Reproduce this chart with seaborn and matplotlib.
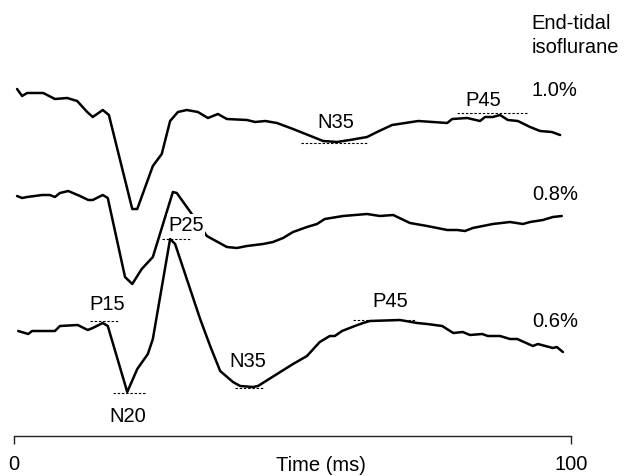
import numpy as np
import pandas as pd
import matplotlib
matplotlib.use("Agg")
import matplotlib.pyplot as plt
import seaborn as sns

# =========================
# DATA (time in ms, amplitude in arbitrary units, positive = up)
# =========================
levels = ["1.0%", "0.8%", "0.6%"]
offsets = [-10.0, -20.0, -33.0]

t_10 = [0.5, 1.4, 2.3, 5.2, 7.3, 9.5, 11.3, 13.1, 14.1, 15.9, 17.0, 21.2, 22.1, 24.9, 26.5, 28.0,
        29.4, 31.0, 33.0, 34.8, 36.6, 38.2, 41.8, 43.3, 45.1, 47.2, 50.1, 53.7, 55.5, 58.0, 60.3,
        63.4, 65.2, 67.9, 72.6, 77.8, 78.7, 81.4, 83.7, 84.6, 86.0, 87.3, 88.7, 90.5, 92.7, 94.5,
        96.6, 98.1]
a_10 = [1.0, 0.3, 0.6, 0.6, 0.0, 0.1, -0.2, -1.3, -1.8, -1.1, -1.6, -11.0, -11.0, -6.7, -5.5, -2.2,
        -1.3, -1.1, -1.3, -1.9, -1.5, -2.0, -2.1, -2.3, -2.2, -2.4, -3.0, -3.8, -4.2, -4.3, -4.1,
        -3.8, -3.3, -2.6, -2.2, -2.4, -2.0, -1.9, -2.2, -1.8, -1.8, -1.6, -2.1, -2.2, -2.8, -3.2,
        -3.3, -3.6]

t_08 = [0.5, 1.4, 2.3, 5.0, 6.4, 7.3, 8.2, 9.7, 11.8, 13.3, 14.1, 15.9, 16.8, 19.9, 21.2, 22.9,
        24.9, 28.5, 29.2, 31.9, 34.6, 38.2, 40.0, 41.8, 44.7, 46.5, 48.3, 50.1, 52.6, 54.4, 55.8,
        59.1, 63.4, 65.7, 68.1, 71.1, 74.2, 77.8, 79.6, 81.0, 82.4, 86.0, 89.1, 91.4, 92.7, 95.0,
        96.8, 98.4]
a_08 = [0.3, 0.1, 0.2, 0.4, 0.4, 0.2, 0.6, 0.8, 0.3, -0.1, -0.1, 0.4, 0.1, -7.8, -8.5, -7.0,
        -5.8, 0.7, 0.6, -1.5, -3.7, -4.8, -4.9, -4.7, -4.5, -4.3, -3.9, -3.3, -2.8, -2.5, -2.0,
        -1.7, -1.5, -1.7, -1.6, -2.4, -2.7, -3.1, -3.1, -3.2, -2.9, -2.5, -2.3, -2.5, -2.3, -2.1,
        -1.8, -1.7]

t_06 = [0.7, 2.5, 3.2, 5.2, 7.3, 8.2, 11.4, 13.2, 14.1, 15.9, 16.8, 20.3, 22.1, 24.0, 24.9, 28.0,
        28.9, 31.0, 33.4, 35.2, 37.0, 39.3, 40.6, 42.9, 43.8, 47.8, 50.1, 52.6, 54.9, 56.7, 57.6,
        58.9, 61.2, 62.7, 63.9, 69.3, 72.4, 74.2, 76.9, 78.9, 80.6, 81.9, 84.1, 85.1, 87.3, 89.1,
        90.4, 93.2, 94.1, 96.8, 97.5, 98.6]
a_06 = [-0.2, -0.5, -0.2, -0.2, -0.2, 0.3, 0.4, -0.1, 0.1, 0.6, 0.3, -6.3, -4.0, -2.5, -1.0, 9.0,
        8.5, 5.0, 1.0, -1.7, -4.2, -5.3, -5.7, -5.8, -5.7, -4.3, -3.5, -2.7, -1.3, -0.7, -0.7,
        -0.2, 0.3, 0.6, 0.8, 0.9, 0.6, 0.5, 0.3, -0.4, -0.3, -0.6, -0.5, -0.7, -0.7, -1.0,
        -1.0, -1.7, -1.5, -1.9, -1.8, -2.3]

# peak markers: name, trace index, start ms, end ms, level, label x, label y
peak_names = ["N35", "P45", "P25", "P15", "N20", "N35", "P45"]
peak_trace = [0, 0, 2, 2, 2, 2, 2]
peak_t0 = [51.5, 79.6, 26.5, 13.6, 17.7, 39.7, 60.9]
peak_t1 = [63.4, 92.3, 31.6, 18.6, 23.7, 44.7, 72.0]
peak_amp = [-4.4, -1.4, 9.0, 0.8, -6.4, -5.9, 0.9]
label_t = [57.8, 84.2, 30.9, 16.7, 20.4, 42.0, 67.5]
label_amp = [-2.3, -0.1, 10.4, 2.5, -8.7, -3.2, 2.8]

level_label_t = 93.0
level_label_amp = [0.9, 0.5, 0.8]

# =========================
# BUILD LONG TABLE
# =========================
frames = []
for lev, off, t, a in zip(levels, offsets, [t_10, t_08, t_06], [a_10, a_08, a_06]):
    frames.append(pd.DataFrame({"time": t, "y": np.array(a) + off, "level": lev}))
df = pd.concat(frames, ignore_index=True)

# =========================
# FIGURE
# =========================
sns.set_theme(style="white")
plt.rcParams['font.family'] = ['Liberation Sans', 'DejaVu Sans']
plt.rcParams['text.color'] = 'black'
plt.rcParams['xtick.color'] = 'black'
plt.rcParams['xtick.labelcolor'] = 'black'
fs = 14.5

fig = plt.figure(figsize=(6.25, 4.77), dpi=100)
ax = fig.add_axes([0, 40 / 477, 1, 437 / 477])

sns.lineplot(data=df, x="time", y="y", units="level", estimator=None, sort=False,
             color="black", linewidth=1.8, ax=ax, zorder=2)

for name, tr, t0, t1, pa, lt, la in zip(peak_names, peak_trace, peak_t0, peak_t1,
                                        peak_amp, label_t, label_amp):
    off = offsets[tr]
    ax.plot([t0, t1], [pa + off, pa + off], color="black", linewidth=0.8,
            linestyle=(0, (2.2, 1.6)), zorder=1)
    box = dict(facecolor="white", edgecolor="none", pad=1.0) if name == "P25" else None
    ax.text(lt, la + off, name, ha="center", va="center", fontsize=fs, bbox=box, zorder=5)

for lev, off, la in zip(levels, offsets, level_label_amp):
    ax.text(level_label_t, la + off, lev, ha="left", va="center", fontsize=fs)

ax.text(level_label_t, -2.9, "End-tidal", ha="left", va="baseline", fontsize=fs)
ax.text(level_label_t, -5.3, "isoflurane", ha="left", va="baseline", fontsize=fs)

# axes
ax.set_xlim(-14.3 / 5.564, (625 - 14.3) / 5.564)
ax.set_ylim(-43.7, 0)
for s in ["top", "left", "right"]:
    ax.spines[s].set_visible(False)
ax.spines["bottom"].set_bounds(0, 100)
ax.spines["bottom"].set_linewidth(1.0)
ax.spines["bottom"].set_color("#222222")
ax.set_xticks([0, 100])
ax.set_xticklabels(["0", "100"], fontsize=fs)
ax.tick_params(axis="x", direction="out", length=6, width=1.0, pad=7, color="#222222", bottom=True)
ax.set_yticks([])
ax.set_xlabel("")
ax.set_ylabel("")
ax.annotate("Time (ms)", xy=(55.2, 0), xycoords=("data", "axes fraction"),
            xytext=(0, -20.2), textcoords="offset points", ha="center", va="center",
            fontsize=fs)

fig.savefig("out.png", dpi=100)
plt.close(fig)
